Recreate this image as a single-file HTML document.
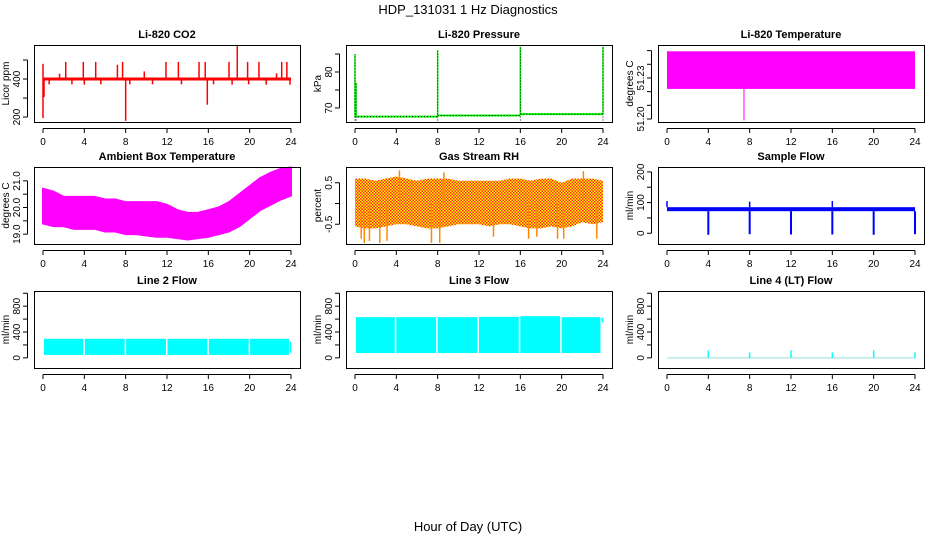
<!DOCTYPE html>
<html><head><meta charset="utf-8"><style>
body{margin:0;background:#fff}
svg{display:block;font-family:"Liberation Sans",sans-serif}
</style></head><body>
<svg id="c" width="936" height="540" viewBox="0 0 936 540">
<text x="468" y="14" text-anchor="middle" font-size="13">HDP_131031  1 Hz Diagnostics</text>
<text x="468" y="531" text-anchor="middle" font-size="13">Hour of Day (UTC)</text>
</svg>
<script>
// ---- data ----
const xTicks = [0,4,8,12,16,20,24];
const co2Base = 400;
const co2SpikeHours = [0,1.6,2.2,3.9,5.1,7.2,7.7,9.8,11.9,13.1,15.1,15.7,18.0,18.8,19.8,20.9,22.6,23.1,23.6,0,0.1,8.0,15.9,0.6,2.8,4.0,5.6,8.4,10.6,13.4,16.5,18.3,19.9,21.6,23.9];
const co2SpikeValues = [480,428,490,490,490,475,490,440,490,490,490,490,490,580,490,490,430,490,490,195,305,180,265,372,372,370,372,372,372,372,372,370,372,370,370];
const presSegStart = [0,8,16];
const presSegEnd = [8,16,24];
const presSegValue = [67.6,67.9,68.3];
const presSpikeHours = [0,0.1,8,16,24];
const presSpikeValues = [85,77,86,87,87];
const tempBandLow = 51.222, tempBandHigh = 51.2495;
const tempDropHour = 7.45, tempDropValue = 51.199;
const ambHours = [0,1,2,3,4,5,6,7,8,9,10,11,12,13,14,15,16,17,18,19,20,21,22,23,24];
const ambUpper = [20.7,20.6,20.4,20.4,20.4,20.4,20.3,20.3,20.2,20.2,20.2,20.2,20.1,19.9,19.8,19.8,19.9,20.0,20.2,20.5,20.8,21.1,21.3,21.45,21.5];
const ambLower = [19.4,19.3,19.3,19.2,19.2,19.2,19.1,19.1,19.0,19.0,18.95,18.9,18.9,18.85,18.8,18.85,18.9,19.0,19.1,19.3,19.6,19.9,20.1,20.3,20.45];
const rhUpper = [0.6,0.6,0.55,0.6,0.65,0.6,0.55,0.6,0.6,0.6,0.55,0.55,0.55,0.55,0.55,0.6,0.6,0.55,0.6,0.6,0.5,0.6,0.6,0.6,0.55];
const rhLower = [-0.55,-0.6,-0.6,-0.55,-0.5,-0.5,-0.55,-0.6,-0.6,-0.55,-0.5,-0.5,-0.5,-0.55,-0.5,-0.5,-0.55,-0.6,-0.6,-0.55,-0.6,-0.55,-0.45,-0.5,-0.45];
const rhSpikeHours = [0.6,0.9,1.4,2.4,3.1,4.3,7.4,8.2,8.6,13.4,16.8,17.6,19.6,20.2,22.1,23.4];
const rhSpikeValues = [-0.85,-0.95,-0.9,-0.95,-0.9,0.8,-0.95,-0.95,0.75,-0.8,-0.85,-0.8,-0.85,-0.85,0.78,-0.85];
const flowBandLow = 72, flowBandHigh = 85;
const flowDipHours = [4,8,12,16,20,24];
const flowDipValues = [-5,-3,-4,-4,-5,-3];
const flowSpikeHours = [0,8,16];
const flowSpikeValues = [105,103,105];
const l2Gaps = [0,3.95,7.95,11.95,15.95,19.95,23.85];
const l2Low = 45, l2High = 295;
const l3Gaps = [0,3.9,7.9,11.9,15.9,19.9,23.8];
const l3Low = 75, l3High = [630,630,630,635,645,630];
const l4SpikeHours = [4,8,12,16,20,24];
const l4SpikeValues = [115,85,115,85,115,85];

const svg = document.getElementById('c');
const NS = 'http://www.w3.org/2000/svg';
function mk(tag, attrs, parent){const e=document.createElementNS(NS,tag);for(const k in attrs)e.setAttribute(k,attrs[k]);(parent||svg).appendChild(e);return e;}

function panel(name, col, row, ydom, yticks, ylabels, title, ytitle){
  const L=[34,346,658][col], T=[45,167,291][row], W=266, H=77;
  const g=mk('g',{});
  
  
  const x=h=>L+9+h*(248/24);
  const y=v=>T+H-(v-ydom[0])/(ydom[1]-ydom[0])*H;
  const t=mk('text',{x:L+W/2,y:T-7,'text-anchor':'middle','font-size':'11','font-weight':'bold'},g);
  t.textContent=title;
  
  
  const yt=mk('text',{transform:`translate(${L-25},${T+H/2}) rotate(-90)`,'text-anchor':'middle','font-size':'10'},g);
  yt.textContent=ytitle;
  
  
  const data=mk('g',{},g);
  // axes
  const ax=mk('g',{stroke:'#000','stroke-width':1,fill:'none'},g);
  mk('rect',{x:L+.5,y:T+.5,width:W,height:H},ax);
  mk('line',{x1:x(0),x2:x(24),y1:T+H+6.5,y2:T+H+6.5},ax);
  xTicks.forEach(h=>{mk('line',{x1:x(h),x2:x(h),y1:T+H+6.5,y2:T+H+11},ax);
    const tx=mk('text',{x:x(h),y:T+H+23,'text-anchor':'middle','font-size':'10',stroke:'none',fill:'#000'},g);tx.textContent=h;
    
    });
  mk('line',{x1:L-6.5,x2:L-6.5,y1:y(yticks[0]),y2:y(yticks[yticks.length-1])},ax);
  yticks.forEach(v=>mk('line',{x1:L-11,x2:L-6.5,y1:y(v),y2:y(v)},ax));
  ylabels.forEach(v=>{const yy=y(v);const tl=mk('text',{transform:`translate(${L-14},${yy}) rotate(-90)`,'text-anchor':'middle','font-size':'10'},g);
    tl.textContent=v;
    
    });
  return {x,y,g:data};
}
function line(p,x1,y1,x2,y2,c,w,extra){const l=mk('line',Object.assign({x1,y1,x2,y2,stroke:c,'stroke-width':w},extra||{}),p.g);return l;}

// P1 CO2
let p=panel('co2',0,0,[174,579],[200,300,400,500],[200,400],'Li-820 CO2','Licor ppm');
line(p,p.x(0),p.y(co2Base),p.x(24),p.y(co2Base),'#f00',3);
co2SpikeHours.forEach((h,i)=>{const l=line(p,p.x(h),p.y(co2Base),p.x(h),p.y(co2SpikeValues[i]),'#f00',1.5);
  
  });
// P2 pressure
p=panel('pressure',1,0,[66.1,87.5],[70,75,80,85],[70,80],'Li-820 Pressure','kPa');
presSegStart.forEach((s,i)=>{line(p,p.x(s),p.y(presSegValue[i]),p.x(presSegEnd[i]),p.y(presSegValue[i]),'#0f0',2);
  line(p,p.x(s),p.y(presSegValue[i]),p.x(presSegEnd[i]),p.y(presSegValue[i]),'#000',1,{'stroke-dasharray':'1 2'});});
presSpikeHours.forEach((h,i)=>{line(p,p.x(h),p.y(presSegValue[Math.min(2,Math.floor(h/8))]),p.x(h),p.y(presSpikeValues[i]),'#0f0',1.5);
  line(p,p.x(h),p.y(66.5),p.x(h),p.y(presSpikeValues[i]),'#000',1,{'stroke-dasharray':'1 2'});});
// P3 temp
p=panel('li820-temp',2,0,[51.1978,51.2541],[51.20,51.21,51.22,51.23,51.24,51.25],['51.20','51.23'],'Li-820 Temperature','degrees C');
mk('rect',{x:p.x(0),y:p.y(tempBandHigh),width:p.x(24)-p.x(0),height:p.y(tempBandLow)-p.y(tempBandHigh),fill:'#f0f'},p.g);
line(p,p.x(tempDropHour),p.y(tempBandLow),p.x(tempDropHour),p.y(tempDropValue),'#f0f',1);
// P4 ambient
p=panel('ambient-temp',0,1,[18.63,21.52],[19,19.5,20,20.5,21],['19.0','20.0','21.0'],'Ambient Box Temperature','degrees C');
{let pts=ambHours.map((h,i)=>p.x(h)+','+p.y(ambUpper[i])).concat(ambHours.slice().reverse().map((h,j)=>{const i=ambHours.length-1-j;return p.x(h)+','+p.y(ambLower[i]);}));
 mk('polygon',{points:pts.join(' '),fill:'#f0f',stroke:'#f0f','stroke-width':2},p.g);}
// P5 RH
p=panel('gas-rh',1,1,[-0.976,0.88],[-0.5,0,0.5],['-0.5','0.5'],'Gas Stream RH','percent');
{const d=mk('defs',{});const pt=mk('pattern',{id:'rhp',width:3,height:3,patternUnits:'userSpaceOnUse'},d);
 mk('rect',{width:3,height:3,fill:'#ff0'},pt);mk('rect',{width:1.5,height:1.5,fill:'#f22'},pt);mk('rect',{x:1.5,y:1.5,width:1.5,height:1.5,fill:'#f22'},pt);
 let pts=ambHours.map((h,i)=>p.x(h)+','+p.y(rhUpper[i])).concat(ambHours.slice().reverse().map((h,j)=>{const i=ambHours.length-1-j;return p.x(h)+','+p.y(rhLower[i]);}));
 mk('polygon',{points:pts.join(' '),fill:'url(#rhp)'},p.g);
 rhSpikeHours.forEach((h,i)=>line(p,p.x(h),p.y(0),p.x(h),p.y(rhSpikeValues[i]),'#f80',1.5));}
// P6 sample flow
p=panel('sample-flow',2,1,[-35,216],[0,50,100,150,200],[0,100,200],'Sample Flow','ml/min');
mk('rect',{x:p.x(0),y:p.y(flowBandHigh),width:p.x(24)-p.x(0),height:p.y(flowBandLow)-p.y(flowBandHigh),fill:'#00f'},p.g);
flowDipHours.forEach((h,i)=>line(p,p.x(h),p.y(flowBandLow),p.x(h),p.y(flowDipValues[i]),'#00f',2));
flowSpikeHours.forEach((h,i)=>line(p,p.x(h),p.y(flowBandHigh),p.x(h),p.y(flowSpikeValues[i]),'#00f',1.5));
// P7 line 2
p=panel('line2-flow',0,2,[-157,1035],[0,200,400,600,800,1000],[0,400,800],'Line 2 Flow','ml/min');
for(let i=0;i<l2Gaps.length-1;i++){mk('rect',{x:p.x(l2Gaps[i])+1,y:p.y(l2High),width:p.x(l2Gaps[i+1])-p.x(l2Gaps[i])-1.5,height:p.y(l2Low)-p.y(l2High),fill:'#0ff'},p.g);}
line(p,p.x(23.95),p.y(80),p.x(23.95),p.y(250),'#0ff',1.5);
// P8 line 3
p=panel('line3-flow',1,2,[-157,1035],[0,200,400,600,800,1000],[0,400,800],'Line 3 Flow','ml/min');
for(let i=0;i<l3Gaps.length-1;i++){mk('rect',{x:p.x(l3Gaps[i])+1,y:p.y(l3High[i]),width:p.x(l3Gaps[i+1])-p.x(l3Gaps[i])-1.5,height:p.y(l3Low)-p.y(l3High[i]),fill:'#0ff'},p.g);}
line(p,p.x(23.95),p.y(550),p.x(23.95),p.y(620),'#0ff',2);
// P9 line 4
p=panel('line4-flow',2,2,[-157,1035],[0,200,400,600,800,1000],[0,400,800],'Line 4 (LT) Flow','ml/min');
line(p,p.x(0),p.y(0),p.x(24),p.y(0),'#9dd',1);
l4SpikeHours.forEach((h,i)=>line(p,p.x(h),p.y(0),p.x(h),p.y(l4SpikeValues[i]),'#0ff',1.5));
</script>
</body></html>
